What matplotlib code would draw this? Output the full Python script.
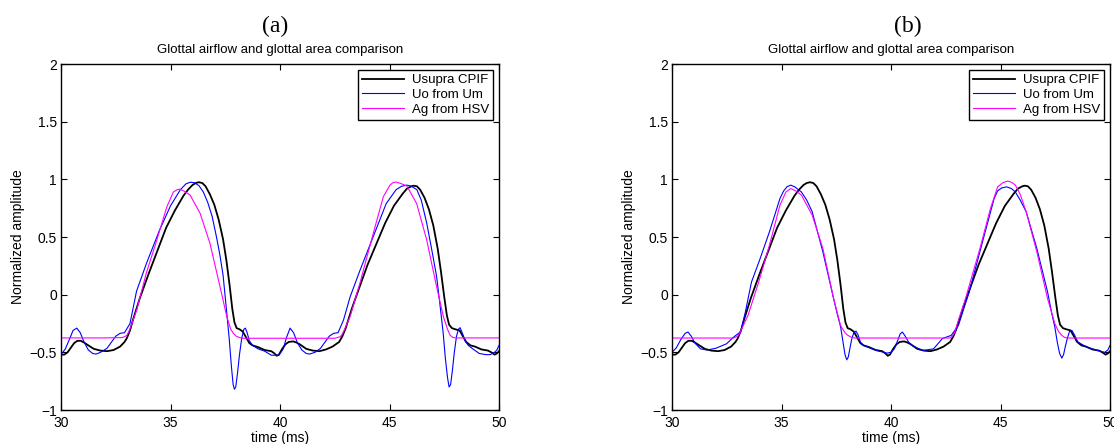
import matplotlib
matplotlib.use('Agg')
import matplotlib.pyplot as plt

plt.rcParams['font.family'] = ['Liberation Sans', 'DejaVu Sans']

# Usupra CPIF (same curve in both panels)
t_cpif = [30.0, 30.15, 30.3, 30.45, 30.6, 30.75, 30.9, 31.05, 31.25, 31.5, 31.8, 32.1, 32.4,
          32.7, 32.9, 33.0, 33.15, 33.3, 33.6, 34.0, 34.4, 34.8, 35.2, 35.6, 35.8, 36.0,
          36.15, 36.3, 36.45, 36.6, 36.8, 37.0, 37.2, 37.4, 37.55, 37.7, 37.82, 37.92, 38.02,
          38.15, 38.3, 38.45, 38.6, 38.75, 39.0, 39.3, 39.6, 39.75, 39.85, 39.95, 40.1, 40.25,
          40.4, 40.6, 40.75, 40.9, 41.2, 41.5, 41.8, 42.1, 42.4, 42.7, 42.85, 43.0, 43.3, 43.6,
          44.0, 44.4, 44.8, 45.2, 45.6, 45.8, 46.0, 46.1, 46.25, 46.4, 46.6, 46.8, 47.0, 47.2,
          47.35, 47.5, 47.62, 47.72, 47.85, 48.0, 48.2, 48.35, 48.5, 48.7, 48.9, 49.2, 49.5,
          49.65, 49.8, 49.9, 50.0]
v_cpif = [-0.52, -0.52, -0.5, -0.46, -0.42, -0.40, -0.40, -0.415, -0.44, -0.47, -0.485, -0.49, -0.48,
          -0.45, -0.41, -0.38, -0.31, -0.21, -0.03, 0.18, 0.38, 0.58, 0.73, 0.86, 0.91, 0.95,
          0.968, 0.975, 0.968, 0.94, 0.87, 0.78, 0.65, 0.48, 0.30, 0.08, -0.12, -0.24, -0.29,
          -0.30, -0.32, -0.37, -0.42, -0.44, -0.455, -0.48, -0.49, -0.51, -0.53, -0.52, -0.47, -0.43,
          -0.41, -0.405, -0.415, -0.43, -0.47, -0.485, -0.49, -0.475, -0.45, -0.41, -0.36, -0.29, -0.11, 0.05,
          0.26, 0.44, 0.62, 0.77, 0.875, 0.92, 0.94, 0.945, 0.94, 0.91, 0.84, 0.74, 0.60, 0.40,
          0.20, -0.02, -0.18, -0.26, -0.29, -0.30, -0.31, -0.36, -0.41, -0.44, -0.45, -0.475, -0.485,
          -0.50, -0.52, -0.51, -0.49]

# panel (a)
t_uo_a = [30.0, 30.2, 30.4, 30.55, 30.72, 30.88, 31.05, 31.25, 31.45, 31.6, 31.8, 32.1, 32.5,
          32.7, 32.9, 33.15, 33.45, 33.9, 34.5, 35.0, 35.45, 35.7, 35.9, 36.1, 36.3, 36.5,
          36.7, 36.9, 37.1, 37.25, 37.4, 37.55, 37.68, 37.78, 37.86, 37.92, 37.98, 38.06, 38.15,
          38.25, 38.35, 38.42, 38.5, 38.6, 38.75, 39.0, 39.3, 39.6, 39.95, 40.15, 40.3, 40.46,
          40.62, 40.8, 41.0, 41.2, 41.35, 41.6, 41.85, 42.25, 42.45, 42.65, 42.9, 43.2, 43.65,
          44.25, 44.85, 45.3, 45.55, 45.8, 46.0, 46.25, 46.45, 46.7, 46.9, 47.15, 47.3, 47.45,
          47.55, 47.65, 47.72, 47.79, 47.87, 47.96, 48.06, 48.15, 48.22, 48.32, 48.45, 48.6,
          48.8, 49.1, 49.4, 49.6, 49.8, 49.9, 50.0]
v_uo_a = [-0.52, -0.47, -0.38, -0.31, -0.29, -0.33, -0.41, -0.48, -0.51, -0.515, -0.5, -0.465, -0.36,
          -0.335, -0.33, -0.25, 0.03, 0.27, 0.56, 0.77, 0.91, 0.96, 0.975, 0.97, 0.945, 0.89,
          0.80, 0.68, 0.50, 0.35, 0.17, -0.12, -0.38, -0.62, -0.78, -0.82, -0.80, -0.68, -0.52,
          -0.38, -0.30, -0.29, -0.33, -0.40, -0.44, -0.47, -0.49, -0.525, -0.525, -0.47, -0.37, -0.29,
          -0.33, -0.42, -0.48, -0.51, -0.515, -0.5, -0.465, -0.36, -0.335, -0.33, -0.22, -0.02, 0.21,
          0.5, 0.79, 0.91, 0.94, 0.95, 0.94, 0.91, 0.82, 0.62, 0.42, 0.16, -0.08, -0.33,
          -0.55, -0.72, -0.80, -0.78, -0.66, -0.50, -0.36, -0.30, -0.286, -0.33, -0.40, -0.44,
          -0.47, -0.51, -0.52, -0.52, -0.5, -0.48, -0.44]
t_ag_a = [30.0, 32.0, 32.8, 33.0, 33.1, 33.2, 33.46, 33.9, 34.37, 34.83, 35.13, 35.3, 35.43,
          35.6, 35.89, 36.35, 36.8, 37.26, 37.57, 37.75, 37.87, 38.0, 38.15, 38.3, 42.5, 42.75,
          42.85, 42.95, 43.2, 43.65, 44.26, 44.72, 45.02, 45.15, 45.28, 45.5, 45.79, 46.24, 46.7,
          47.15, 47.46, 47.65, 47.76, 47.88, 48.0, 50.0]
v_ag_a = [-0.375, -0.375, -0.372, -0.355, -0.32, -0.27, -0.13, 0.19, 0.47, 0.76, 0.89, 0.91, 0.914,
          0.90, 0.865, 0.706, 0.446, 0.07, -0.19, -0.30, -0.335, -0.36, -0.372, -0.378, -0.378, -0.365,
          -0.34, -0.30, -0.19, 0.1, 0.533, 0.85, 0.95, 0.97, 0.977, 0.965, 0.943, 0.79, 0.474,
          0.07, -0.19, -0.30, -0.35, -0.37, -0.375, -0.375]

# panel (b)
t_uo_b = [30.0, 30.2, 30.4, 30.6, 30.73, 30.88, 31.05, 31.3, 31.6, 32.0, 32.49, 32.8, 33.14,
          33.35, 33.63, 34.0, 34.45, 34.93, 35.1, 35.25, 35.42, 35.6, 35.91, 36.15, 36.4, 36.89,
          37.38, 37.55, 37.7, 37.8, 37.9, 37.98, 38.05, 38.12, 38.2, 38.3, 38.4, 38.5, 38.6,
          38.75, 39.0, 39.33, 39.82, 40.0, 40.15, 40.3, 40.42, 40.52, 40.65, 40.8, 40.96, 41.45,
          41.94, 42.35, 42.75, 43.08, 43.57, 44.22, 44.71, 44.87, 45.05, 45.28, 45.5, 45.68, 45.9,
          46.17, 46.66, 47.15, 47.35, 47.48, 47.6, 47.7, 47.8, 47.88, 47.96, 48.05, 48.15, 48.26,
          48.38, 48.53, 48.94, 49.43, 49.76, 49.9, 50.0]
v_uo_b = [-0.50, -0.46, -0.39, -0.335, -0.324, -0.36, -0.42, -0.47, -0.48, -0.465, -0.426, -0.37, -0.32,
          -0.15, 0.11, 0.30, 0.545, 0.834, 0.90, 0.935, 0.95, 0.935, 0.89, 0.82, 0.72, 0.37,
          -0.035, -0.17, -0.28, -0.40, -0.52, -0.565, -0.54, -0.47, -0.39, -0.33, -0.316, -0.35, -0.41,
          -0.44, -0.46, -0.484, -0.507, -0.5, -0.47, -0.40, -0.34, -0.324, -0.36, -0.41, -0.44, -0.484,
          -0.47, -0.38, -0.353, -0.266, 0.023, 0.487, 0.834, 0.90, 0.925, 0.935, 0.92, 0.89, 0.82,
          0.72, 0.40, 0.023, -0.17, -0.28, -0.42, -0.51, -0.55, -0.52, -0.45, -0.38, -0.32, -0.31,
          -0.35, -0.41, -0.455, -0.484, -0.5, -0.48, -0.44]
t_ag_b = [30.0, 32.8, 33.0, 33.1, 33.47, 33.96, 34.45, 34.93, 35.2, 35.42, 35.65, 35.91, 36.4,
          36.89, 37.38, 37.7, 37.9, 38.03, 38.2, 38.36, 42.7, 42.8, 42.9, 43.08, 43.4, 44.06,
          44.54, 44.87, 45.1, 45.33, 45.5, 45.68, 45.9, 46.17, 46.66, 47.15, 47.48, 47.65, 47.8,
          47.92, 48.05, 50.0]
v_ag_b = [-0.376, -0.376, -0.36, -0.33, -0.18, 0.11, 0.43, 0.776, 0.89, 0.92, 0.90, 0.863, 0.69,
          0.40, -0.035, -0.27, -0.33, -0.353, -0.37, -0.376, -0.376, -0.36, -0.33, -0.22, -0.035, 0.40,
          0.747, 0.935, 0.97, 0.985, 0.975, 0.95, 0.87, 0.72, 0.37, -0.035, -0.25, -0.32, -0.353,
          -0.37, -0.376, -0.376]

labels = ['Usupra CPIF', 'Uo from Um', 'Ag from HSV']
xticks = [30, 35, 40, 45, 50]
yticks = [-1, -0.5, 0, 0.5, 1, 1.5, 2]
yticklabels = ['\u22121', '\u22120.5', '0', '0.5', '1', '1.5', '2']

W, H = 1114, 444
fig = plt.figure(figsize=(W / 100, H / 100), dpi=100)

panels = [('(a)', 61, 275, t_uo_a, v_uo_a, t_ag_a, v_ag_a),
          ('(b)', 672, 908, t_uo_b, v_uo_b, t_ag_b, v_ag_b)]

for tag, x0, tagx, tu, vu, ta, va in panels:
    ax = fig.add_axes([x0 / W, 34 / H, 438 / W, 346 / H])
    ax.plot(t_cpif, v_cpif, color='black', lw=1.3, label=labels[0])
    ax.plot(tu, vu, color='#0000ff', lw=0.8, label=labels[1])
    ax.plot(ta, va, color='#ff00ff', lw=0.8, label=labels[2])
    ax.set_xlim(30, 50)
    ax.set_ylim(-1, 2)
    ax.set_xticks(xticks)
    ax.set_yticks(yticks)
    ax.set_yticklabels(yticklabels)
    ax.tick_params(direction='in', top=True, right=True, length=4, width=0.8,
                   labelsize=10, pad=3)
    ax.tick_params(axis='x', pad=4)
    for s in ax.spines.values():
        s.set_linewidth(1.0)
    ax.set_xlabel('time (ms)', fontsize=10, labelpad=1)
    ax.set_ylabel('Normalized amplitude', fontsize=10, labelpad=3)
    ax.set_title('Glottal airflow and glottal area comparison', fontsize=9.5, pad=8)
    leg = ax.legend(loc='upper right', fontsize=9.5, handlelength=3.2, fancybox=False,
                    edgecolor='black', framealpha=1, borderpad=0.3, labelspacing=0.2,
                    handletextpad=0.6, borderaxespad=0.45)
    leg.get_frame().set_linewidth(1.0)
    fig.text(tagx / W, 1 - 26 / H, tag, ha='center', va='center',
             fontsize=17, family=['Liberation Serif', 'DejaVu Serif'])

fig.savefig('out.png', dpi=100)
